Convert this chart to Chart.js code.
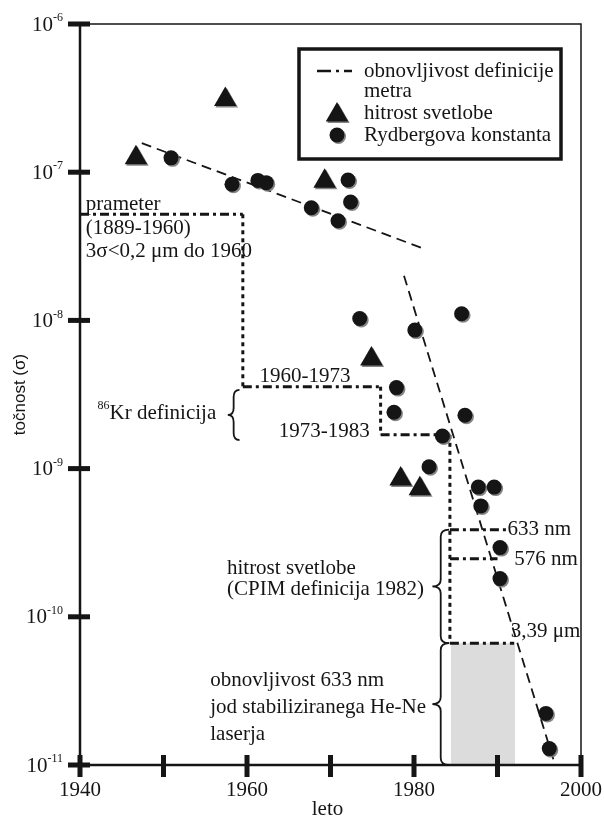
<!DOCTYPE html>
<html>
<head>
<meta charset="utf-8">
<script src="https://cdn.jsdelivr.net/npm/chart.js@4/dist/chart.umd.min.js"></script>
<style>
  html, body { margin: 0; padding: 0; background: #fff; }
</style>
</head>
<body>
<canvas id="myChart" width="604" height="817"></canvas>
<script>
// hitrost svetlobe (triangles)
var lightYears = [1946.7, 1957.4, 1969.3, 1974.9, 1978.4, 1980.7];
var lightSigma = [1.25e-7, 3.1e-7, 8.7e-8, 5.5e-9, 8.5e-10, 7.3e-10];

// Rydbergova konstanta (circles)
var rydYears = [1950.9, 1958.2, 1961.3, 1962.3, 1967.7, 1970.9, 1972.1, 1972.4, 1973.5, 1977.6, 1977.9,
                1980.1, 1981.8, 1983.4, 1985.7, 1986.1, 1987.7, 1988.0, 1989.6, 1990.3, 1990.3, 1995.8, 1996.2];
var rydSigma = [1.25e-7, 8.3e-8, 8.8e-8, 8.5e-8, 5.75e-8, 4.7e-8, 8.85e-8, 6.3e-8, 1.03e-8, 2.4e-9, 3.52e-9,
                8.6e-9, 1.03e-9, 1.66e-9, 1.11e-8, 2.29e-9, 7.5e-10, 5.6e-10, 7.5e-10, 2.93e-10, 1.81e-10, 2.23e-11, 1.29e-11];

// dashed trend lines
var trendOldYears = [1947.4, 1981.5];
var trendOldSigma = [1.57e-7, 3.0e-8];
var trendNewYears = [1978.8, 1996.9];
var trendNewSigma = [2.0e-8, 1.0e-11];

// obnovljivost definicije metra (staircase)
var stepYears = [1940, 1959.5, 1959.5, 1976.0, 1976.0, 1984.3, 1984.3, 1992.0];
var stepSigma = [5.2e-8, 5.2e-8, 3.57e-9, 3.57e-9, 1.69e-9, 1.69e-9, 6.64e-11, 6.64e-11];
var line633Years = [1984.3, 1991.1];
var line633Sigma = [3.87e-10, 3.87e-10];
var line576Years = [1984.3, 1990.0];
var line576Sigma = [2.46e-10, 2.46e-10];
var heNeYears = [1984.4, 1992.1];
var heNeSigma = [6.64e-11, 6.64e-11];

// axes
var xTicks = [1940, 1950, 1960, 1970, 1980, 1990, 2000];
var xTickLabels = ['1940', '', '1960', '', '1980', '', '2000'];
var yTicks = [1e-6, 1e-7, 1e-8, 1e-9, 1e-10, 1e-11];
var yTickExp = ['-6', '-7', '-8', '-9', '-10', '-11'];

var legendLines = [['obnovljivost definicije', 'metra'], ['hitrost svetlobe'], ['Rydbergova konstanta']];

// text notes, anchored in data space (left edge, vertical middle)
var notes = [
    { text: 'prameter', x: 1940.7, y: 6.1e-8 },
    { text: '(1889-1960)', x: 1940.7, y: 4.2e-8 },
    { text: '3\u03c3<0,2 \u03bcm do 1960', x: 1940.7, y: 2.9e-8 },
    { text: '1960-1973', x: 1961.5, y: 4.2e-9 },
    { sup: '86', text: 'Kr definicija', x: 1942.1, y: 2.36e-9 },
    { text: '1973-1983', x: 1963.8, y: 1.77e-9 },
    { text: '633 nm', x: 1991.2, y: 3.87e-10 },
    { text: '576 nm', x: 1992.0, y: 2.45e-10 },
    { text: '3,39 \u03bcm', x: 1991.6, y: 8.0e-11 },
    { text: 'hitrost svetlobe', x: 1957.6, y: 2.13e-10 },
    { text: '(CPIM definicija 1982)', x: 1957.6, y: 1.53e-10 },
    { text: 'obnovljivost 633 nm', x: 1955.6, y: 3.7e-11 },
    { text: 'jod stabiliziranega He-Ne', x: 1955.6, y: 2.43e-11 },
    { text: 'laserja', x: 1955.6, y: 1.61e-11 }
];
var braces = [
    { x0: 1957.7, x1: 1959.1, top: 3.4e-9, bottom: 1.56e-9 },
    { x0: 1982.2, x1: 1984.2, top: 3.87e-10, bottom: 6.64e-11 },
    { x0: 1982.2, x1: 1984.2, top: 6.64e-11, bottom: 1e-11 }
];

var INK = '#151515';
var SERIF = '"Liberation Serif", "Times New Roman", serif';
var FONT = '21px ' + SERIF;
var DASHDOT = [9, 4, 3, 4];

function pts(xs, ys) {
    return xs.map(function (x, i) { return { x: x, y: ys[i] }; });
}

function stepDash(c) {
    return c.p0.parsed.x === c.p1.parsed.x ? [4, 4] : DASHDOT;
}

function triangle(ctx, x, y, r) {
    ctx.beginPath();
    ctx.moveTo(x, y - r);
    ctx.lineTo(x + r * 0.866, y + r * 0.5);
    ctx.lineTo(x - r * 0.866, y + r * 0.5);
    ctx.closePath();
    ctx.fill();
}

function brace(ctx, xTip, xEnd, yTop, yBot) {
    var xm = (xTip + xEnd) / 2, ym = (yTop + yBot) / 2;
    var r = Math.min(7, (yBot - yTop) / 4);
    ctx.beginPath();
    ctx.moveTo(xEnd, yTop);
    ctx.quadraticCurveTo(xm, yTop, xm, yTop + r);
    ctx.lineTo(xm, ym - r);
    ctx.quadraticCurveTo(xm, ym, xTip, ym);
    ctx.quadraticCurveTo(xm, ym, xm, ym + r);
    ctx.lineTo(xm, yBot - r);
    ctx.quadraticCurveTo(xm, yBot, xEnd, yBot);
    ctx.stroke();
}

var shadowPlugin = {
    id: 'markShadow',
    beforeDatasetDraw: function (chart, args) {
        if (args.meta._dataset.shadow) {
            var ctx = chart.ctx;
            ctx.save();
            ctx.shadowColor = 'rgba(120,120,120,0.9)';
            ctx.shadowOffsetX = 1.5;
            ctx.shadowOffsetY = 1.5;
            ctx.shadowBlur = 0;
        }
    },
    afterDatasetDraw: function (chart, args) {
        if (args.meta._dataset.shadow) chart.ctx.restore();
    }
};

var framePlugin = {
    id: 'frame',
    afterDatasetsDraw: function (chart) {
        var ctx = chart.ctx, a = chart.chartArea;
        var xs = chart.scales.x, ys = chart.scales.y;
        ctx.save();
        ctx.strokeStyle = INK;
        ctx.fillStyle = INK;

        // frame
        ctx.lineWidth = 1.5;
        ctx.strokeRect(a.left, a.top, a.right - a.left, a.bottom - a.top);
        ctx.lineWidth = 2.5;
        ctx.beginPath();
        ctx.moveTo(a.left, a.top); ctx.lineTo(a.left, a.bottom); ctx.lineTo(a.right, a.bottom);
        ctx.stroke();

        // ticks
        xTicks.forEach(function (v, i) {
            var px = xs.getPixelForValue(v);
            ctx.fillRect(px - 2.5, a.bottom - 10, 5, 22);
            if (xTickLabels[i]) {
                ctx.font = FONT;
                ctx.textAlign = 'center';
                ctx.textBaseline = 'middle';
                ctx.fillText(xTickLabels[i], px, a.bottom + 25);
            }
        });
        yTicks.forEach(function (v, i) {
            var py = ys.getPixelForValue(v);
            ctx.fillRect(a.left - 12, py - 2.5, 22, 5);
            ctx.font = FONT;
            var w10 = ctx.measureText('10').width;
            ctx.font = '12px ' + SERIF;
            var we = ctx.measureText(yTickExp[i]).width;
            var x0 = a.left - 17 - w10 - we;
            ctx.textAlign = 'left';
            ctx.textBaseline = 'middle';
            ctx.font = FONT;
            ctx.fillText('10', x0, py + 1);
            ctx.font = '12px ' + SERIF;
            ctx.fillText(yTickExp[i], x0 + w10, py - 6);
        });

        // axis titles
        ctx.font = FONT;
        ctx.textAlign = 'center';
        ctx.fillText('leto', (a.left + a.right) / 2 - 3, a.bottom + 44);
        ctx.save();
        ctx.translate(a.left - 60, (a.top + a.bottom) / 2);
        ctx.rotate(-Math.PI / 2);
        ctx.font = '17px "Liberation Sans", Arial, sans-serif';
        ctx.fillText('to\u010dnost (\u03c3)', 0, 0);
        ctx.restore();

        // notes
        ctx.textAlign = 'left';
        ctx.textBaseline = 'middle';
        notes.forEach(function (n) {
            var px = xs.getPixelForValue(n.x), py = ys.getPixelForValue(n.y);
            if (n.sup) {
                ctx.font = '12px ' + SERIF;
                ctx.fillText(n.sup, px, py - 7);
                px += ctx.measureText(n.sup).width;
            }
            ctx.font = FONT;
            ctx.fillText(n.text, px, py);
        });

        // braces
        ctx.lineWidth = 1.8;
        braces.forEach(function (b) {
            brace(ctx, xs.getPixelForValue(b.x0), xs.getPixelForValue(b.x1),
                ys.getPixelForValue(b.top), ys.getPixelForValue(b.bottom));
        });

        // legend
        var bx = a.right - 282, by = a.top + 25, bw = 262, bh = 110;
        ctx.fillStyle = '#fff';
        ctx.fillRect(bx, by, bw, bh);
        ctx.fillStyle = INK;
        ctx.lineWidth = 3.5;
        ctx.strokeRect(bx, by, bw, bh);
        ctx.lineWidth = 2.5;
        ctx.setLineDash([14, 5, 3, 5]);
        ctx.beginPath();
        ctx.moveTo(bx + 18, by + 22); ctx.lineTo(bx + 53, by + 22);
        ctx.stroke();
        ctx.setLineDash([]);
        ctx.save();
        ctx.shadowColor = 'rgba(120,120,120,0.9)';
        ctx.shadowOffsetX = 1.5;
        ctx.shadowOffsetY = 1.5;
        triangle(ctx, bx + 38, by + 66, 13);
        ctx.beginPath();
        ctx.arc(bx + 38, by + 86, 7.5, 0, Math.PI * 2);
        ctx.fill();
        ctx.restore();
        ctx.font = FONT;
        ctx.fillText(legendLines[0][0], bx + 65, by + 22);
        ctx.fillText(legendLines[0][1], bx + 65, by + 42);
        ctx.fillText(legendLines[1][0], bx + 65, by + 64);
        ctx.fillText(legendLines[2][0], bx + 65, by + 86);

        ctx.restore();
    }
};

var ctx = document.getElementById('myChart').getContext('2d');
var chart = new Chart(ctx, {
    type: 'line',
    data: {
        datasets: [{
            label: 'He-Ne',
            data: pts(heNeYears, heNeSigma),
            borderWidth: 0,
            pointRadius: 0,
            backgroundColor: '#dcdcdc',
            fill: 'start',
            order: 10
        }, {
            label: 'obnovljivost definicije metra',
            data: pts(stepYears, stepSigma),
            borderColor: INK,
            borderWidth: 3,
            borderDash: DASHDOT,
            segment: { borderDash: stepDash },
            pointRadius: 0,
            fill: false,
            order: 5
        }, {
            label: '633 nm',
            data: pts(line633Years, line633Sigma),
            borderColor: INK,
            borderWidth: 3,
            borderDash: DASHDOT,
            pointRadius: 0,
            fill: false,
            order: 5
        }, {
            label: '576 nm',
            data: pts(line576Years, line576Sigma),
            borderColor: INK,
            borderWidth: 3,
            borderDash: DASHDOT,
            pointRadius: 0,
            fill: false,
            order: 5
        }, {
            label: 'trend 1',
            data: pts(trendOldYears, trendOldSigma),
            borderColor: INK,
            borderWidth: 1.8,
            borderDash: [10, 6],
            pointRadius: 0,
            fill: false,
            order: 4
        }, {
            label: 'trend 2',
            data: pts(trendNewYears, trendNewSigma),
            borderColor: INK,
            borderWidth: 1.8,
            borderDash: [10, 6],
            pointRadius: 0,
            fill: false,
            order: 4
        }, {
            label: 'hitrost svetlobe',
            data: pts(lightYears, lightSigma),
            showLine: false,
            pointStyle: 'triangle',
            pointRadius: 13,
            pointBackgroundColor: INK,
            pointBorderColor: INK,
            pointBorderWidth: 0,
            shadow: true,
            order: 1
        }, {
            label: 'Rydbergova konstanta',
            data: pts(rydYears, rydSigma),
            showLine: false,
            pointStyle: 'circle',
            pointRadius: 7.5,
            pointBackgroundColor: INK,
            pointBorderColor: INK,
            pointBorderWidth: 0,
            shadow: true,
            order: 1
        }]
    },
    options: {
        responsive: false,
        animation: false,
        layout: { padding: { left: 80, right: 23, top: 24, bottom: 52 } },
        scales: {
            x: { type: 'linear', min: 1940, max: 2000, display: false },
            y: { type: 'logarithmic', min: 1e-11, max: 1e-6, display: false }
        },
        plugins: {
            legend: { display: false },
            tooltip: { enabled: false }
        }
    },
    plugins: [shadowPlugin, framePlugin]
});
</script>
</body>
</html>
